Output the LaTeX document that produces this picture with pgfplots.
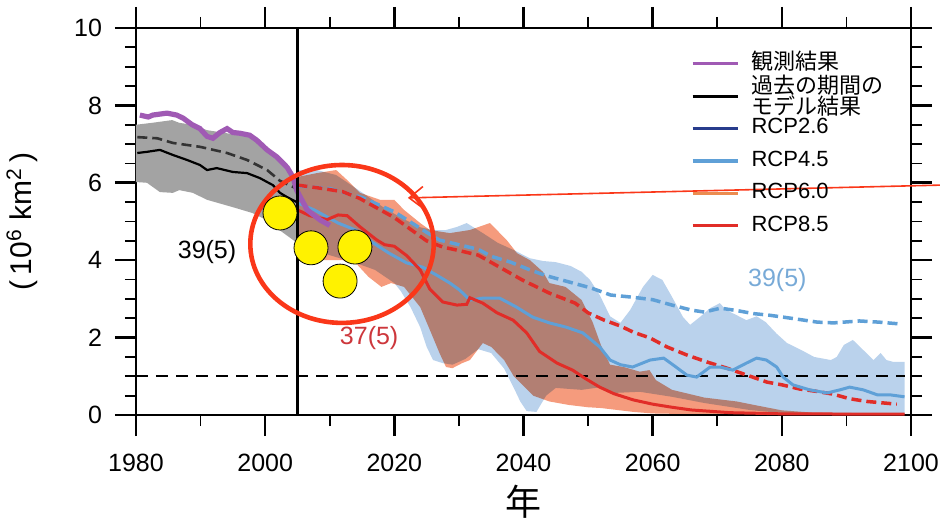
\documentclass[border=0pt]{standalone}
\usepackage{fontspec}
\setmainfont{Liberation Sans}
\newfontfamily\jp{Noto Sans CJK JP}
\usepackage{pgfplots}
\pgfplotsset{compat=1.18}
\usetikzlibrary{arrows.meta}

\definecolor{obs}{RGB}{160,90,180}
\definecolor{rcpA}{RGB}{40,60,140}
\definecolor{rcpB}{RGB}{95,160,215}
\definecolor{rcpC}{RGB}{235,140,80}
\definecolor{rcpD}{RGB}{225,45,40}
\definecolor{bandB}{RGB}{186,210,236}
\definecolor{bandD}{RGB}{245,155,125}
\definecolor{bandG}{RGB}{163,163,163}
\definecolor{annot}{RGB}{250,55,25}
\definecolor{lblD}{RGB}{205,55,60}
\definecolor{lblB}{RGB}{120,170,215}

\begin{document}
\begin{tikzpicture}
\begin{axis}[
  scale only axis, width=387.5pt, height=193.5pt,
  xmin=1980, xmax=2100, ymin=0, ymax=10,
  xtick={1980,2000,...,2100}, ytick={0,2,...,10},
  minor x tick num=1, minor y tick num=3,
  tick align=outside,
  major tick length=10.5pt, minor tick length=5.5pt,
  axis line style={line width=1.3pt},
  major tick style={black, line width=1.3pt},
  minor tick style={black, line width=0.9pt},
  /pgf/number format/1000 sep={},
  /pgf/number format/assume math mode=true,
  tick label style={font=\fontsize{12.5}{14}\selectfont},
  xticklabel style={yshift=-5.5pt},
  yticklabel style={xshift=-3pt},
  xlabel={\jp 年},
  xlabel style={at={(rel axis cs:0.5,-0.225)}, anchor=center, font=\fontsize{18}{20}\selectfont},
  ylabel={(\,10\textsuperscript{6} km\textsuperscript{2}\,)},
  ylabel style={at={(rel axis cs:-0.147,0.5)}, anchor=center, font=\fontsize{15}{17}\selectfont},
  clip=false,
  legend cell align=left,
  legend style={draw=none, fill=none, at={(rel axis cs:0.708,0.9455)}, anchor=north west,
    font=\fontsize{11}{11}\selectfont, row sep=5.8pt,
    nodes={inner xsep=3.75pt, inner ysep=0pt, text height=7.8pt, text depth=2.6pt}},
  legend image code/.code={\draw[#1, line width=1.6pt] (0pt,0pt) -- (22.5pt,0pt); \path (25.5pt,0pt);},
]
% gray historical band
\addplot[fill=bandG, draw=none, forget plot] coordinates {
 (1980,7.5)(1982.5,7.55)(1985.6,7.62)(1986.7,7.55)(1988.7,7.5)(1991,7.36)(1994.1,7.28)(1997.6,7.18)(1999.7,7.03)(2001.8,6.67)(2003.4,6.4)(2005,6.0)
 (2005,4.44)(2002.2,4.78)(2000.2,5.04)(1998,5.22)(1995,5.37)(1991,5.56)(1988.8,5.74)(1986.7,5.81)(1985.7,5.74)(1983.7,5.76)(1981.7,6.0)(1980,6.02)
} -- cycle;
% RCP4.5 band
\addplot[fill=bandB, draw=none, forget plot] coordinates {
 (2005,6.33)(2008,6.33)(2011,6.2)(2015,5.75)(2018,5.4)(2021,5.1)(2024,4.85)(2026,4.78)(2028,4.78)(2029.7,4.86)(2031.2,4.96)(2033.7,4.7)(2036,4.45)(2038.5,4.26)(2041,4.05)(2043,3.98)(2045,3.95)(2047.3,3.85)(2049,3.7)(2050.3,3.49)(2051.8,3.1)(2053.4,2.55)(2055,2.38)(2056.5,2.71)(2058.5,3.31)(2060,3.62)(2061.5,3.49)(2063,3.05)(2064.7,2.53)(2065.8,2.33)(2067.3,2.53)(2068.9,2.76)(2070.4,2.89)(2071.4,2.71)(2073,2.58)(2074.5,2.45)(2076.1,2.55)(2077.5,2.4)(2079.2,2.1)(2080.8,1.86)(2083,1.68)(2085,1.5)(2087.6,1.42)(2088.5,1.5)(2089.6,1.81)(2091,1.94)(2092.6,1.68)(2094.2,1.42)(2095.3,1.6)(2096.2,1.42)(2097.3,1.37)(2099,1.37)
 (2099,0.03)(2080,0.05)(2075,0.13)(2068,0.31)(2063,0.47)(2058,0.6)(2054,0.57)(2052,0.72)(2049,0.65)(2045,0.7)(2043.5,0.5)(2042,0.08)(2040.5,0.1)(2039.5,0.35)(2038.5,0.7)(2037,1.2)(2035,1.6)(2033,1.7)(2031,1.45)(2029,1.3)(2027.5,1.34)(2026,1.42)(2025,1.76)(2024,2.27)(2022.5,2.79)(2021,3.2)(2020,3.41)(2017,3.75)(2014,3.93)(2009,4.18)(2005,4.52)
} -- cycle;
% RCP8.5 band
\addplot[fill=bandD, draw=none, blend mode=multiply, forget plot] coordinates {
 (2005,6.15)(2008,6.25)(2011,6.33)(2012.7,6.07)(2014.7,5.74)(2017.8,5.56)(2020,5.56)(2021.5,5.3)(2024,4.96)(2025.5,4.78)(2028.6,4.7)(2031.7,4.78)(2034.8,4.96)(2037.4,4.52)(2039,4.18)(2041,4.0)(2043,3.7)(2044,3.41)(2046.5,3.31)(2049,2.97)(2050.7,2.4)(2052,1.8)(2053.4,1.3)(2055.5,1.24)(2058,1.12)(2059.5,1.16)(2060.5,0.9)(2063,0.65)(2068,0.45)(2073,0.35)(2076,0.25)(2080,0.12)(2085,0.06)(2099,0.04)
 (2099,0.0)(2070,0.01)(2060,0.04)(2057,0.08)(2052,0.18)(2050,0.2)(2047,0.26)(2044,0.35)(2041.5,0.5)(2040,0.75)(2038.5,1.0)(2037,1.42)(2035,1.76)(2033.7,1.86)(2031.7,1.42)(2030.5,1.34)(2029,1.21)(2028,1.24)(2027,1.6)(2025.5,2.2)(2024,2.79)(2021.5,3.31)(2019.5,3.41)(2018,3.31)(2016,3.57)(2014,3.93)(2012,4.0)(2009,4.0)(2005,4.26)
} -- cycle;
% threshold line
\addplot[black, line width=1pt, dash pattern=on 6pt off 4pt, forget plot] coordinates {(1980,1)(2099,1)};
% RCP4.5 dashed
\addplot[rcpB, line width=1.75pt, dash pattern=on 5pt off 2.5pt, forget plot] coordinates {
 (2005,5.92)(2010,5.85)(2015,5.62)(2020,5.25)(2025,4.72)(2027,4.52)(2030,4.4)(2033,4.28)(2035,4.1)(2038,3.95)(2041,3.75)(2043.5,3.6)(2047,3.44)(2050.5,3.28)(2053.5,3.1)(2056.5,3.05)(2060,2.98)(2063,2.84)(2066,2.71)(2068,2.66)(2070.5,2.76)(2073,2.7)(2075.6,2.62)(2078,2.58)(2081,2.51)(2085.5,2.4)(2088,2.38)(2092,2.43)(2095,2.4)(2098.5,2.35)};
% RCP8.5 dashed
\addplot[rcpD, line width=1.75pt, dash pattern=on 5pt off 2.5pt, forget plot] coordinates {
 (2005,5.94)(2009,5.85)(2012,5.77)(2014.6,5.6)(2017.3,5.35)(2020,5.1)(2022.5,4.8)(2025,4.5)(2027.5,4.34)(2030,4.25)(2033,4.13)(2036.3,3.82)(2039.8,3.49)(2044,3.15)(2048,2.89)(2050,2.64)(2052.5,2.45)(2055,2.3)(2057,2.14)(2059.6,1.99)(2062.2,1.76)(2065.3,1.55)(2068.4,1.37)(2071.5,1.21)(2074.6,1.03)(2077.7,0.85)(2080,0.78)(2082.8,0.67)(2085.4,0.61)(2087.9,0.54)(2090.5,0.42)(2093.2,0.35)(2097.8,0.28)};
% RCP4.5 solid
\addplot[rcpB, line width=1.5pt, forget plot] coordinates {
 (2005,5.48)(2007.6,5.3)(2011.3,4.96)(2014,4.78)(2016.5,4.47)(2019.2,4.18)(2021.9,3.93)(2024.4,3.82)(2027,3.57)(2028.6,3.41)(2030.1,3.23)(2031.7,2.97)(2033.7,3.02)(2036.3,3.02)(2038.9,2.79)(2041.4,2.53)(2044,2.38)(2046.6,2.27)(2049.2,2.12)(2051.8,1.76)(2053.4,1.42)(2055,1.3)(2056.9,1.24)(2059.6,1.42)(2061.7,1.47)(2063.2,1.29)(2065.3,1.03)(2066.8,0.98)(2068.9,1.24)(2070.4,1.24)(2072.4,1.16)(2074.5,1.34)(2076.1,1.47)(2077.6,1.42)(2079.2,1.24)(2080.2,0.98)(2081.7,0.78)(2084.3,0.65)(2087,0.57)(2089,0.65)(2090.5,0.72)(2092.6,0.65)(2094.8,0.52)(2096.8,0.52)(2099,0.47)};
% RCP8.5 solid
\addplot[rcpD, line width=1.5pt, forget plot] coordinates {
 (2005,5.3)(2006.9,5.15)(2009.6,5.05)(2011.3,5.17)(2012.7,5.15)(2014.7,4.86)(2017.3,4.52)(2018.5,4.4)(2020,4.36)(2021.9,4.12)(2024,3.75)(2025.5,3.25)(2027.5,2.92)(2029.7,2.84)(2031.2,2.86)(2031.7,3.03)(2033.7,2.89)(2035.9,2.64)(2038.4,2.45)(2040.5,2.12)(2042.5,1.64)(2045.2,1.34)(2047.6,1.16)(2049.5,0.95)(2051.8,0.72)(2054,0.55)(2057,0.39)(2060,0.28)(2063,0.2)(2066,0.13)(2072,0.06)(2080,0.03)(2099,0.02)};
% model historical dashed
\addplot[black!80, line width=1.3pt, dash pattern=on 5pt off 2.5pt, forget plot] coordinates {
 (1980.2,7.18)(1983.3,7.15)(1985.7,7.03)(1989.9,6.93)(1994.1,6.77)(1997.2,6.59)(2000.3,6.33)(2002.3,6.05)(2004.9,5.85)};
% model historical solid
\addplot[black, line width=1.1pt, forget plot] coordinates {
 (1980.2,6.77)(1981.7,6.8)(1983.7,6.85)(1985.7,6.72)(1987.9,6.59)(1989.9,6.46)(1991,6.33)(1992.5,6.38)(1995,6.28)(1997.2,6.25)(1999.2,6.12)(2000.3,6.02)(2001.2,5.94)(2002.3,5.74)(2003.4,5.63)(2004.9,5.5)};
% observations
\addplot[obs, line width=2.6pt, forget plot] coordinates {
 (1980.6,7.75)(1981.9,7.7)(1982.6,7.75)(1984.8,7.8)(1986.3,7.75)(1987.3,7.67)(1988.7,7.5)(1989.9,7.4)(1991,7.2)(1991.9,7.15)(1993,7.3)(1994.1,7.4)(1995,7.3)(1996.1,7.28)(1997.6,7.23)(1998.7,7.1)(2000.3,6.85)(2001.8,6.67)(2003.4,6.4)(2004.3,6.15)(2004.9,5.8)(2006.5,5.3)(2008.5,5.04)(2010,4.9)};
% 2005 divider
\addplot[black, line width=1.2pt, forget plot] coordinates {(2005,0)(2005,10)};
% labels
\node[font=\fontsize{12.5}{14}\selectfont] at (axis cs:1991,4.21) {39(5)};
\node[font=\fontsize{12.5}{14}\selectfont, text=lblD] at (axis cs:2016.1,1.99) {37(5)};
\node[font=\fontsize{12.5}{14}\selectfont, text=lblB] at (axis cs:2079.3,3.5) {39(5)};
% annotations
\draw[annot, line width=2.3pt] (axis cs:2011.9,4.42) ellipse [x radius=14.2, y radius=2.04];
\addplot[annot, line width=0.8pt, -{Straight Barb[length=7pt,width=11pt]}, forget plot] coordinates {(2104.5,5.94)(2022.1,5.61)};
\addplot[only marks, mark=*, mark size=8.5pt, mark options={fill=yellow, draw=none}, forget plot] coordinates {(2002.3,5.22)(2007.1,4.32)(2013.9,4.34)(2011.6,3.46)};
% legend
\addlegendimage{obs}
\addlegendentry{\jp 観測結果}
\addlegendimage{black}
\addlegendentry{\parbox[c][8pt][c]{70pt}{\jp\fontsize{11}{10.5}\selectfont 過去の期間の\\モデル結果}}
\addlegendimage{rcpA}
\addlegendentry{RCP2.6}
\addlegendimage{rcpB}
\addlegendentry{RCP4.5}
\addlegendimage{rcpC}
\addlegendentry{RCP6.0}
\addlegendimage{rcpD}
\addlegendentry{RCP8.5}
\coordinate (O) at (rel axis cs:0,0);
\end{axis}
\pgfresetboundingbox
\path[use as bounding box] ([shift={(-68pt,-52pt)}]O) rectangle ([shift={(402pt,207.5pt)}]O);
\end{tikzpicture}
\end{document}
